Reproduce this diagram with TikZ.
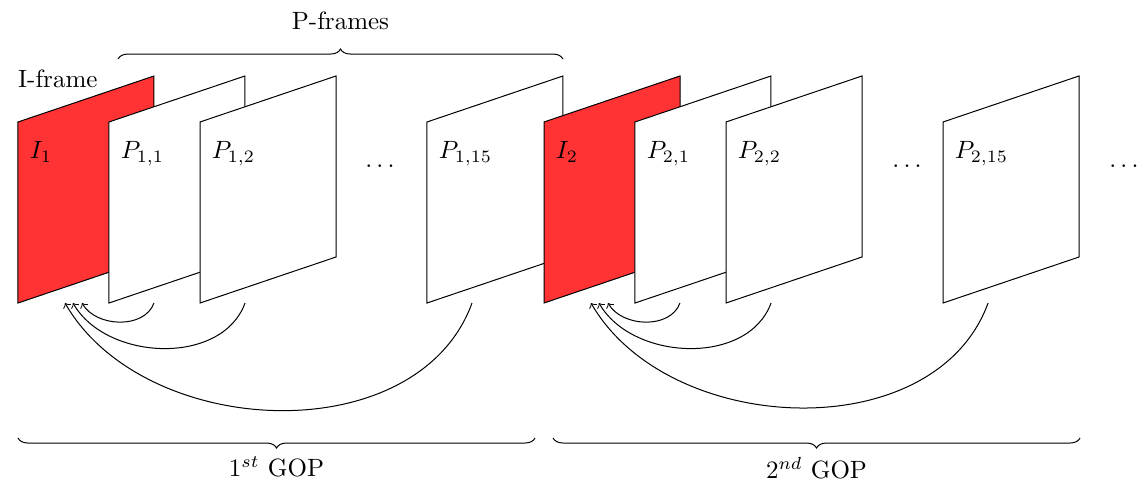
\documentclass[tikz,border=0pt]{standalone}
\usepackage{amsmath,amssymb}
\usepackage{tikz}
\usetikzlibrary{decorations.pathreplacing, positioning}
\definecolor{ired}{RGB}{255,51,51}

\begin{document}
\begin{tikzpicture}[
  frm/.style={draw, fill=white},
  ifrm/.style={draw, fill=ired},
  lbl/.style={anchor=base west, inner sep=0pt},
  arr/.style={->},
  brc/.style={decorate, decoration={brace, amplitude=4pt}},
  mbrc/.style={decorate, decoration={brace, amplitude=4pt, mirror}}
]
\useasboundingbox (-0.253,-2.643) rectangle (15.732,4.260);

% frames, left to right so each one hides part of the one before
\foreach \n/\x/\s/\t in {i1/0/ifrm/I_1, p11/1.279/frm/P_{1,1}, p12/2.559/frm/P_{1,2}, p115/5.750/frm/P_{1,15},
    i2/7.395/ifrm/I_2, p21/8.674/frm/P_{2,1}, p22/9.954/frm/P_{2,2}, p215/13.005/frm/P_{2,15}} {
  \coordinate (\n) at (\x,0);
  \draw[\s] (\n) -- ++(0,2.545) -- ++(1.912,0.647) -- ++(0,-2.545) -- cycle;
  \node[lbl] (\n-l) at ([shift={(0.16,2.025)}]\n) {$\t$};
}

\node[anchor=base] (d1) at (5.089,1.912) {$\ldots$};
\node[anchor=base] (d2) at (12.499,1.912) {$\ldots$};
\node[anchor=base] (d3) at (15.549,1.912) {$\ldots$};

\node[anchor=base] (ifr) at ([shift={(0.56,3.023)}]i1) {I-frame};
\draw[brc] ([shift={(0.127,3.43)}]p11) -- ([shift={(1.912,3.43)}]p115)
  node[midway, above=8pt] (pfr) {P-frames};

% references back to the I-frame
\foreach \a/\b/\d in {p11/i1/0.900, p12/i1/0.773, p115/i1/0.661, p21/i2/0.900, p22/i2/0.773, p215/i2/0.661}
  \draw[arr] ([xshift=0.633cm]\a) to[out=-110, in=-60] ([xshift=\d cm]\b);

\draw[mbrc] ([yshift=-1.898cm]i1) -- ([shift={(-0.126,-1.898)}]i2)
  node[midway, below=4pt] (g1) {$1^{st}$ GOP};
\draw[mbrc] ([shift={(0.127,-1.898)}]i2) -- ([shift={(1.926,-1.898)}]p215)
  node[midway, below=4pt] (g2) {$2^{nd}$ GOP};
\end{tikzpicture}
\end{document}
